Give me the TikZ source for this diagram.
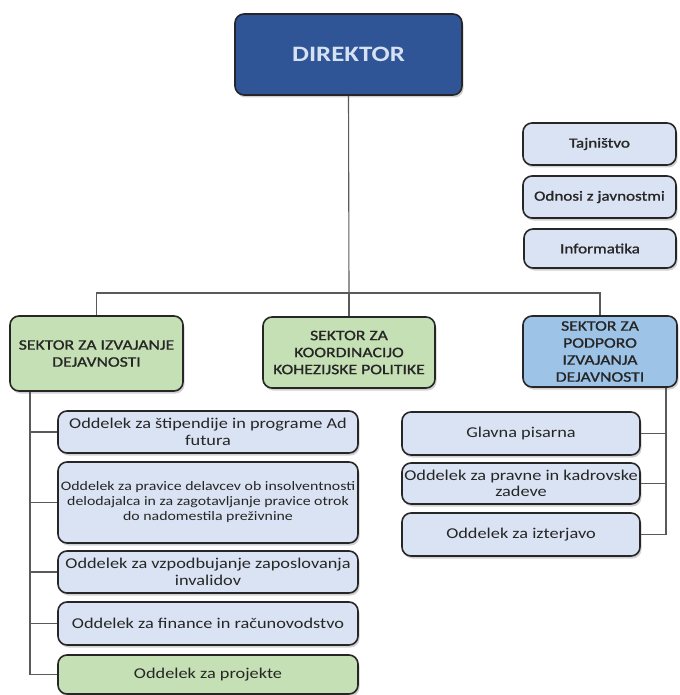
\documentclass[tikz,border=0pt]{standalone}
\usepackage{fontspec}
\setmainfont{Carlito}[FakeStretch=1.22]
\newfontfamily\semib{Carlito}[FakeStretch=1.22, FakeBold=1.2]
\usetikzlibrary{shadows}
\definecolor{dirblue}{HTML}{2F5597}
\definecolor{dirtext}{HTML}{D6E2F2}
\definecolor{lgreen}{HTML}{C5E0B4}
\definecolor{mblue}{HTML}{9DC3E6}
\definecolor{lblue}{HTML}{DAE3F3}
\definecolor{edge}{HTML}{262626}
\definecolor{linegray}{HTML}{5A5A5A}
\tikzset{
  box/.style={draw=edge, line width=1.6pt, rounded corners=9pt, align=center,
    inner sep=1pt, text=edge,
    drop shadow={shadow xshift=1.5pt, shadow yshift=-2.5pt, opacity=0.3, fill=black!60}},
  dirbox/.style={box, fill=dirblue, text=dirtext, font=\fontsize{22}{24}\selectfont\bfseries},
  sektor/.style={box, font=\semib\fontsize{14.5}{17}\selectfont},
  small/.style={box, fill=lblue, font=\semib\fontsize{14}{16}\selectfont},
  dept/.style={box, fill=lblue, minimum width=300pt, font=\fontsize{15}{16.5}\selectfont},
  rdept/.style={box, fill=lblue, minimum width=238pt, font=\fontsize{15}{16.5}\selectfont},
  conn/.style={draw=linegray, line width=1.1pt}
}
\begin{document}
\begin{tikzpicture}[x=1pt,y=-1pt]
\useasboundingbox (0,0) rectangle (679,695);
% top
\node[dirbox, minimum width=227pt, minimum height=81pt] (dir) at (348.5,54.5) {DIREKTOR};
% staff boxes
\node[small, minimum width=153pt, minimum height=42pt] (taj) at (599.5,144) {Tajništvo};
\node[small, minimum width=153pt, minimum height=42pt] (odn) at (599.5,197) {Odnosi z javnostmi};
\node[small, minimum width=152pt, minimum height=39pt] (inf) at (600,248.5) {Informatika};
% sectors
\node[sektor, fill=lgreen, minimum width=173pt, minimum height=75pt] (s1) at (96.5,353.5)
  {SEKTOR ZA IZVAJANJE\\DEJAVNOSTI};
\node[sektor, fill=lgreen, minimum width=172pt, minimum height=71pt] (s2) at (349,352.5)
  {SEKTOR ZA\\KOORDINACIJO\\KOHEZIJSKE POLITIKE};
\node[sektor, fill=mblue, minimum width=154pt, minimum height=71pt] (s3) at (600,351.5)
  {SEKTOR ZA\\PODPORO\\IZVAJANJA\\DEJAVNOSTI};
% left departments
\node[dept, minimum height=42pt] (da) at (208,432) {Oddelek za štipendije in programe Ad\\futura};
\node[dept, minimum height=81pt, font=\fontsize{13}{15}\selectfont] (db) at (208,502.5)
  {Oddelek za pravice delavcev ob insolventnosti\\delodajalca in za zagotavljanje pravice otrok\\do nadomestila preživnine};
\node[dept, minimum height=42pt] (dc) at (208,572) {Oddelek za vzpodbujanje zaposlovanja\\invalidov};
\node[dept, minimum height=43pt] (dd) at (208,623.5) {Oddelek za finance in računovodstvo};
\node[dept, fill=lgreen, minimum height=39pt] (de) at (208,674.5) {Oddelek za projekte};
% right departments
\node[rdept, minimum height=43pt] (ga) at (521,433.5) {Glavna pisarna};
\node[rdept, minimum height=41pt] (gb) at (521,483.5) {Oddelek za pravne in kadrovske\\zadeve};
\node[rdept, minimum height=43pt] (gc) at (521,534.5) {Oddelek za izterjavo};
% connectors
\coordinate (hub) at (349,293);
\coordinate (lx) at (30,0);
\coordinate (rx) at (666,0);
\draw[conn] (dir.south) -- (hub);
\draw[conn] (s1.north) |- (hub) -| (s3.north);
\draw[conn] (hub) -- (s2.north);
\draw[conn] (s1.south -| lx) |- (de.west);
\foreach \n in {da,db,dc,dd} \draw[conn] (\n.west -| lx) -- (\n.west);
\draw[conn] (s3.south -| rx) |- (gc.east);
\foreach \n in {ga,gb} \draw[conn] (\n.east -| rx) -- (\n.east);
\end{tikzpicture}
\end{document}
